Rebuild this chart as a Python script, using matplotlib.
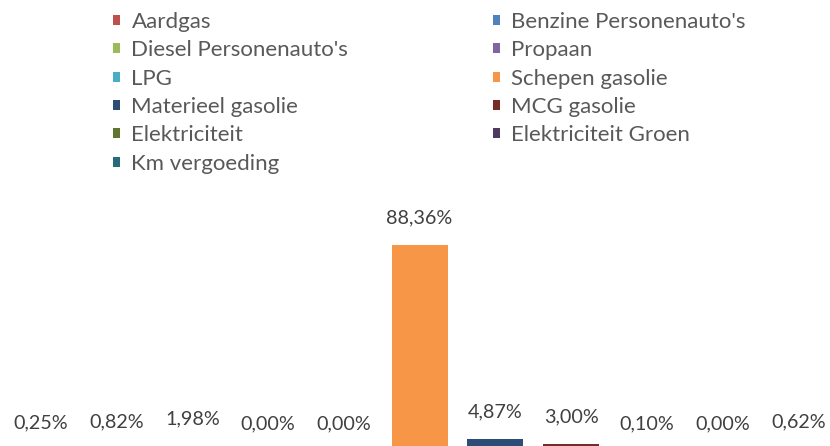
import matplotlib.pyplot as plt
from matplotlib.patches import Patch

categories = ["Aardgas", "Benzine Personenauto's", "Diesel Personenauto's", "Propaan",
              "LPG", "Schepen gasolie", "Materieel gasolie", "MCG gasolie",
              "Elektriciteit", "Elektriciteit Groen", "Km vergoeding"]
values = [0.25, 0.82, 1.98, 0.00, 0.00, 88.36, 4.87, 3.00, 0.10, 0.00, 0.62]
labels = ["0,25%", "0,82%", "1,98%", "0,00%", "0,00%", "88,36%",
          "4,87%", "3,00%", "0,10%", "0,00%", "0,62%"]
colors = ["#C0504D", "#4F81BD", "#9BBB59", "#8064A2", "#4BACC6", "#F79646",
          "#2C4D75", "#772C2A", "#5F7530", "#4D3B62", "#276A7C"]

plt.rcParams['font.family'] = ['Lato', 'DejaVu Sans']

fig = plt.figure(figsize=(8.3, 4.46), dpi=100)
ax = fig.add_axes([0, 0, 1, 1])
ax.axis('off')

# plot area is cut off at the bottom, baseline lies just under the image
x = list(range(len(values)))
ax.bar(x, values, width=0.74, color=colors)
ax.set_xlim(-0.542, 10.42)
ax.set_ylim(2.05, 193.96)

for xi, v, lab in zip(x, values, labels):
    ax.annotate(lab, (xi, v), xytext=(0, 19.5), textcoords='offset points',
                ha='center', va='center', fontsize=14.2, color='#404040',
                annotation_clip=False)

# legend, two columns, read row by row
handles = [Patch(facecolor=c, edgecolor='none') for c in colors]
leg_kw = dict(frameon=False, fontsize=16, handlelength=0.33, handleheight=0.33,
              handletextpad=0.5, labelspacing=0.375, borderpad=0, borderaxespad=0,
              labelcolor='#595959', loc='upper left')
left = fig.legend(handles[0::2], categories[0::2],
                  bbox_to_anchor=(113 / 830, 1 - 12 / 446), **leg_kw)
right = fig.legend(handles[1::2], categories[1::2],
                   bbox_to_anchor=(493 / 830, 1 - 12 / 446), **leg_kw)

fig.savefig('out.png', dpi=100)
